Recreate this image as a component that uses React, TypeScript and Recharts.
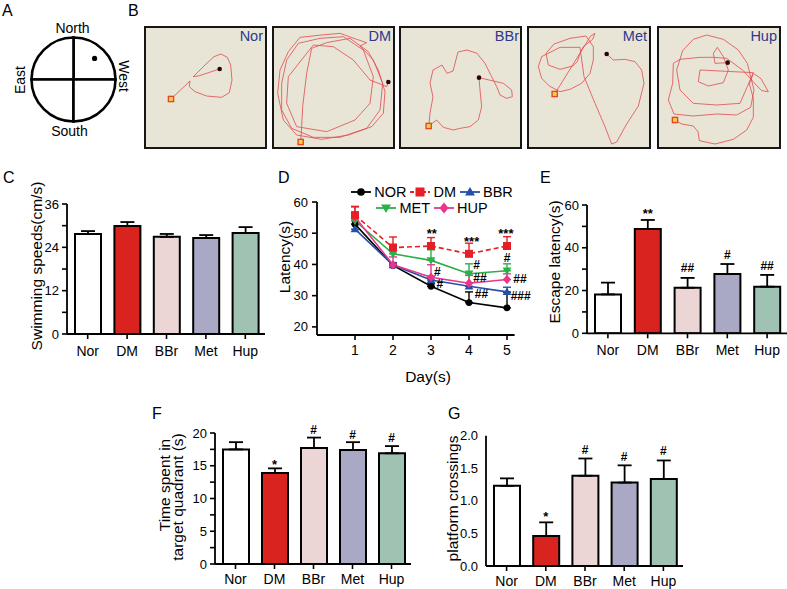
import React from 'react'
import {
  BarChart,
  Bar,
  Cell,
  XAxis,
  YAxis,
  ErrorBar,
  ReferenceDot,
  LineChart,
  Line,
  Legend,
  PieChart,
  Pie,
} from 'recharts'

const FONT = '"Liberation Sans", Arial, Helvetica, sans-serif'

// A: water maze quadrants
const quadrants = ['NE', 'NW', 'SW', 'SE']
const quadrantShare = [1, 1, 1, 1]
const platformQuadrant = 0
const platformRadius = 0.71

// B: swim tracks, in units of the 3x zoomed picture
const norTrack = [[93, 237], [150, 183], [148, 200], [165, 215], [200, 228], [245, 232], [268, 218], [276, 180], [272, 135], [262, 112], [243, 102], [222, 110], [195, 135], [160, 170], [175, 168], [239, 147]]
const norPlatform = [239, 147]
const dmTrack = [[482, 366], [485, 320], [488, 260], [500, 160], [515, 85], [560, 68], [630, 55], [685, 95], [715, 150], [735, 215], [730, 280], [695, 320], [625, 345], [545, 358], [470, 345], [430, 300], [413, 220], [420, 150], [445, 95], [480, 52], [545, 45], [600, 40], [650, 58], [680, 68], [660, 78], [700, 120], [728, 190], [720, 270], [680, 325], [600, 352], [520, 352], [455, 325], [425, 270], [425, 190], [440, 120], [475, 70], [540, 55], [610, 50], [670, 90], [700, 170], [690, 250], [645, 300], [560, 335], [470, 320], [440, 250], [445, 170], [520, 75], [580, 80], [640, 120], [690, 180], [740, 200], [745, 186]]
const dmPlatform = [745, 186]
const bbrTrack = [[866, 318], [890, 300], [910, 322], [940, 330], [960, 325], [990, 320], [1015, 300], [1025, 260], [1020, 210], [1017, 173], [1060, 183], [1090, 190], [1115, 210], [1117, 230], [1100, 235], [1080, 225], [1070, 200], [1055, 170], [1035, 130], [1011, 100], [981, 90], [954, 96], [939, 153], [921, 160], [906, 135], [879, 150], [870, 189], [879, 231], [870, 279], [867, 312]]
const bbrPlatform = [1017, 173]
const metTrack = [[284, 222], [392, 48], [405, 40], [398, 58], [370, 80], [360, 100], [352, 125], [338, 138], [300, 148], [265, 135], [258, 100], [282, 72], [330, 55], [378, 48], [400, 80], [400, 120], [390, 160], [365, 190], [330, 208], [300, 215], [268, 198], [245, 175], [235, 140], [245, 110], [300, 82], [360, 82], [372, 170], [405, 250], [435, 320], [455, 372], [470, 366], [500, 312], [535, 258], [552, 190], [545, 150], [525, 125], [495, 118], [460, 120], [440, 102]]
const metPlatform = [440, 102]
const hupTrack = [[645, 300], [665, 312], [700, 318], [714, 335], [718, 362], [765, 372], [820, 358], [860, 330], [880, 292], [880, 235], [868, 192], [880, 160], [903, 176], [925, 215], [905, 212], [882, 188], [850, 152], [800, 115], [760, 112], [720, 112], [660, 118], [640, 130], [638, 190], [625, 240], [642, 282], [700, 288], [770, 282], [830, 285], [872, 262], [882, 210], [862, 130], [835, 90], [790, 58], [740, 45], [700, 58], [668, 92], [650, 150], [660, 210], [700, 250], [770, 255], [840, 250], [880, 158], [720, 150], [715, 185], [745, 198], [790, 188], [805, 150], [790, 110], [772, 82], [760, 100], [765, 130], [803, 128]]
const hupPlatform = [803, 128]

// bar panels
const groups = ['Nor', 'DM', 'BBr', 'Met', 'Hup']
const groupColors = ['#ffffff', '#d8231f', '#ecd5d5', '#a9a9c6', '#a0c2b3']

const speedMean = [27.7, 29.9, 26.9, 26.6, 28.0]
const speedErr = [0.8, 1.1, 0.8, 0.8, 1.6]
const speedTicks = [0, 6, 12, 18, 24, 30, 36]

const escapeMean = [18.2, 48.8, 21.3, 27.7, 21.8]
const escapeErr = [5.5, 4.2, 4.6, 4.7, 5.5]
const escapeMarks = ['', '**', '##', '#', '##']
const escapeMarkY = [0, 57.2, 30.5, 36.6, 31.5]
const escapeTicks = [0, 10, 20, 30, 40, 50, 60]

const quadrantMean = [17.5, 13.9, 17.7, 17.4, 16.9]
const quadrantErr = [1.1, 0.7, 1.6, 1.2, 1.1]
const quadrantMarks = ['', '*', '#', '#', '#']
const quadrantMarkY = [0, 15.6, 20.5, 19.8, 19.3]
const quadrantTicks = [0, 2.5, 5, 7.5, 10, 12.5, 15, 17.5, 20]

const crossingMean = [1.23, 0.46, 1.385, 1.28, 1.335]
const crossingErr = [0.115, 0.21, 0.265, 0.265, 0.285]
const crossingMarks = ['', '*', '#', '#', '#']
const crossingMarkY = [0, 0.81, 1.78, 1.68, 1.765]
const crossingTicks = [0, 0.5, 1, 1.5, 2]

// D: latency over days
const days = [1, 2, 3, 4, 5]
const latencyNames = ['NOR', 'DM', 'BBR', 'MET', 'HUP']
const latencyColors = ['#000000', '#e41f26', '#2451a6', '#2bb04a', '#e8368c']
const latencyMarkers = ['circle', 'square', 'triangle', 'down', 'diamond']
const norLatency = [52.9, 39.7, 33.0, 27.8, 26.1]
const norErr = [1.2, 0.8, 0.8, 3.4, 5.0]
const dmLatency = [55.8, 45.4, 45.9, 43.4, 45.9]
const dmErr = [2.8, 3.4, 2.7, 3.4, 3.0]
const bbrLatency = [51.3, 39.8, 35.0, 33.0, 31.2]
const bbrErr = [1.5, 0.8, 1.2, 1.0, 1.5]
const metLatency = [54.0, 43.4, 41.3, 37.0, 38.0]
const metErr = [2.0, 3.0, 3.4, 3.2, 2.2]
const hupLatency = [55.2, 39.9, 35.9, 34.0, 35.2]
const hupErr = [3.2, 2.5, 4.0, 2.5, 1.8]
const latencyValues = [norLatency, dmLatency, bbrLatency, metLatency, hupLatency]
const latencyErrs = [norErr, dmErr, bbrErr, metErr, hupErr]
const latencyMarkDay = [3.02, 4.07, 4.97, 3.17, 3.23, 4.2, 4.29, 4.33, 5.0, 5.34, 5.36]
const latencyMarkY = [51.0, 48.3, 50.9, 37.6, 33.7, 40.0, 35.8, 30.7, 42.0, 35.5, 30.1]
const latencyMarkText = ['**', '***', '***', '#', '#', '#', '##', '##', '#', '##', '###']

const axisLine = { stroke: '#000', strokeWidth: 1.8 }
const tickLine = { stroke: '#000', strokeWidth: 1.6 }
const yTick = { fill: '#000', fontSize: 13, fontFamily: FONT }
const xTick = { fill: '#000', fontSize: 14, fontFamily: FONT }

function MarkText({ cx, cy, text }: { cx: number; cy: number; text: string }) {
  const star = text.includes('*')
  return (
    <text x={cx} y={cy + (star ? 7.5 : 4.3)} textAnchor="middle" fontSize={star ? 13 : 12} fontWeight="bold" fontFamily={FONT} fill="#000">
      {text}
    </text>
  )
}

function Marker({ kind, x, y, size, color }: { kind: string; x: number; y: number; size: number; color: string }) {
  const h = size / 2
  if (kind === 'circle') return <circle cx={x} cy={y} r={h * 0.85} fill={color} />
  if (kind === 'square') return <rect x={x - h} y={y - h} width={size} height={size} fill={color} />
  if (kind === 'triangle')
    return <path d={`M${x},${y - h * 1.1}L${x + h * 1.1},${y + h * 0.8}L${x - h * 1.1},${y + h * 0.8}Z`} fill={color} />
  if (kind === 'down')
    return <path d={`M${x},${y + h * 1.1}L${x + h * 1.1},${y - h * 0.8}L${x - h * 1.1},${y - h * 0.8}Z`} fill={color} />
  return <path d={`M${x},${y - h * 1.2}L${x + h},${y}L${x},${y + h * 1.2}L${x - h},${y}Z`} fill={color} />
}

const renderPlatform = (p: any) => {
  if (p.index !== platformQuadrant) return <g key={p.index} />
  const rad = (Math.PI / 180) * p.midAngle
  const r = p.outerRadius * platformRadius
  return <circle key={p.index} cx={p.cx + r * Math.cos(rad)} cy={p.cy - r * Math.sin(rad)} r={2.6} fill="#000" />
}

function Compass() {
  const data = quadrants.map((q, i) => ({ q, share: quadrantShare[i] }))
  return (
    <div style={{ position: 'absolute', left: 0, top: 0 }}>
      <PieChart width={140} height={140} margin={{ top: 0, right: 0, bottom: 0, left: 0 }}>
        <Pie
          data={data}
          dataKey="share"
          nameKey="q"
          cx={73.5}
          cy={79.5}
          innerRadius={0}
          outerRadius={42}
          startAngle={0}
          endAngle={360}
          fill="#fff"
          stroke="#000"
          strokeWidth={2.6}
          label={renderPlatform}
          labelLine={false}
          isAnimationActive={false}
        />
      </PieChart>
    </div>
  )
}

const StartSquare = (p: any) => (
  <rect x={p.cx - 2.6} y={p.cy - 2.6} width={5.2} height={5.2} fill="#f8d24a" stroke="#e4481e" strokeWidth={1.4} />
)

function TrackBox({ box, dx, track, platform }: { box: number[]; dx: number[]; track: number[][]; platform: number[] }) {
  const data = track.map(([x, y]) => ({ x, y }))
  return (
    <div
      style={{
        position: 'absolute',
        left: box[0],
        top: box[1],
        width: box[2],
        height: box[3],
        boxSizing: 'border-box',
        border: '2px solid #161616',
        background: '#e8e5d7',
      }}
    >
      <LineChart width={box[2] - 4} height={box[3] - 4} data={data} margin={{ top: 0, right: 0, bottom: 0, left: 0 }}>
        <XAxis type="number" dataKey="x" domain={dx} hide allowDataOverflow />
        <YAxis type="number" domain={[24, 381]} reversed hide allowDataOverflow />
        <Line dataKey="y" type="linear" stroke="#e04a4c" strokeWidth={0.8} dot={false} activeDot={false} isAnimationActive={false} />
        <ReferenceDot x={track[0][0]} y={track[0][1]} r={3} ifOverflow="visible" shape={StartSquare} />
        <ReferenceDot x={platform[0]} y={platform[1]} r={2.3} fill="#2a0505" stroke="none" ifOverflow="visible" />
      </LineChart>
    </div>
  )
}

type BarPanelProps = {
  box: number[]
  yWidth: number
  top: number
  right: number
  xHeight: number
  xMargin: number
  domain: number[]
  ticks: number[]
  fmt: (v: any) => string
  means: number[]
  errs: number[]
  marks?: string[]
  markY?: number[]
  tickLabels?: boolean
}

function BarPanel({
  box, yWidth, top, right, xHeight, xMargin, domain, ticks, fmt, means, errs, marks = [], markY = [], tickLabels = true,
}: BarPanelProps) {
  const rows = groups.map((g, i) => ({ g, v: means[i], e: [0, errs[i]] }))
  return (
    <div style={{ position: 'absolute', left: box[0], top: box[1] }}>
      <BarChart width={box[2]} height={box[3]} data={rows} margin={{ top, right, bottom: 0, left: 0 }}>
        <XAxis
          dataKey="g"
          height={xHeight}
          axisLine={axisLine}
          tickLine={tickLine}
          tickSize={5}
          tickMargin={xMargin}
          tick={xTick}
          interval={0}
          padding={{ left: 1, right: 0 }}
        />
        <YAxis
          type="number"
          width={yWidth}
          domain={domain}
          ticks={ticks}
          tickFormatter={fmt}
          interval={0}
          allowDataOverflow
          axisLine={axisLine}
          tickLine={tickLine}
          tickSize={5}
          tickMargin={3}
          tick={tickLabels ? yTick : false}
        />
        <Bar dataKey="v" barSize={26} stroke="#000" strokeWidth={2} isAnimationActive={false}>
          {groups.map((g, i) => (
            <Cell key={g} fill={groupColors[i]} />
          ))}
          <ErrorBar dataKey="e" width={7} stroke="#000" strokeWidth={1.8} />
        </Bar>
        {marks.map((m, i) =>
          m ? (
            <ReferenceDot
              key={i}
              x={groups[i]}
              y={markY[i]}
              r={0}
              ifOverflow="visible"
              shape={(p: any) => <MarkText cx={p.cx} cy={p.cy} text={m} />}
            />
          ) : null
        )}
      </BarChart>
    </div>
  )
}

function LatencyLegend() {
  const rows = [[0, 1, 2], [3, 4]]
  return (
    <div style={{ width: 200, fontFamily: FONT, fontSize: 14.5, color: '#000' }}>
      {rows.map((r, ri) => (
        <div key={ri} style={{ display: 'flex', justifyContent: 'center', alignItems: 'center', height: 16 }}>
          {r.map((k) => (
            <div key={k} style={{ display: 'flex', alignItems: 'center', margin: '0 2px' }}>
              <svg width={20} height={12}>
                <line
                  x1={0}
                  y1={6}
                  x2={20}
                  y2={6}
                  stroke={latencyColors[k]}
                  strokeWidth={1.8}
                  strokeDasharray={k === 1 ? '4 2' : undefined}
                />
                <Marker kind={latencyMarkers[k]} x={10} y={6} size={9} color={latencyColors[k]} />
              </svg>
              <span style={{ marginLeft: 3, lineHeight: '16px' }}>{latencyNames[k]}</span>
            </div>
          ))}
        </div>
      ))}
    </div>
  )
}

function LatencyChart() {
  const rows = days.map((day, i) => {
    const row: Record<string, any> = { day }
    latencyNames.forEach((n, k) => {
      row[n] = latencyValues[k][i]
      row[n + 'e'] = [0, latencyErrs[k][i]]
    })
    return row
  })
  const order = [0, 2, 3, 4, 1]
  return (
    <div style={{ position: 'absolute', left: 280, top: 180 }}>
      <LineChart width={255} height={200} data={rows} margin={{ top: 22, right: 20.4, bottom: 0, left: 0 }}>
        <XAxis
          type="number"
          dataKey="day"
          domain={[0, 5.2]}
          ticks={days}
          allowDataOverflow
          height={45}
          axisLine={axisLine}
          tickLine={tickLine}
          tickSize={5}
          tickMargin={5}
          tick={xTick}
          interval={0}
        />
        <YAxis
          width={37}
          domain={[17.4, 60]}
          ticks={[20, 30, 40, 50, 60]}
          allowDataOverflow
          interval={0}
          axisLine={axisLine}
          tickLine={tickLine}
          tickSize={5}
          tickMargin={4}
          tick={yTick}
        />
        <Legend
          layout="vertical"
          align="center"
          verticalAlign="middle"
          wrapperStyle={{ left: 52, top: 4, width: 200 }}
          content={() => <LatencyLegend />}
        />
        {order.map((k) => {
          const n = latencyNames[k]
          return (
            <Line
              key={n}
              dataKey={n}
              type="linear"
              stroke={latencyColors[k]}
              strokeWidth={1.6}
              strokeDasharray={k === 1 ? '5 3' : undefined}
              dot={(p: any) => (
                <Marker key={n + p.index} kind={latencyMarkers[k]} x={p.cx} y={p.cy} size={8} color={latencyColors[k]} />
              )}
              activeDot={false}
              isAnimationActive={false}
            >
              <ErrorBar dataKey={n + 'e'} width={4} stroke={latencyColors[k]} strokeWidth={1.4} />
            </Line>
          )
        })}
        {latencyMarkText.map((t, i) => (
          <ReferenceDot
            key={i}
            x={latencyMarkDay[i]}
            y={latencyMarkY[i]}
            r={0}
            ifOverflow="visible"
            shape={(p: any) => <MarkText cx={p.cx} cy={p.cy} text={t} />}
          />
        ))}
      </LineChart>
    </div>
  )
}

// G axis geometry in the page: value 0 sits at y 566, value 2 at y 435.7
const crossingAxis = { x: 486, zeroY: 566, topY: 435.7, top: 2 }

function Overlay() {
  const letters: [string, number, number][] = [
    ['A', 2, 16],
    ['B', 128, 16],
    ['C', 3, 183],
    ['D', 278, 183],
    ['E', 540, 183],
    ['F', 152, 419],
    ['G', 448, 419],
  ]
  const boxLabels: [string, number][] = [
    ['Nor', 263],
    ['DM', 391],
    ['BBr', 519],
    ['Met', 647],
    ['Hup', 777],
  ]
  const vTitles: [string, number, number][] = [
    ['Swimming speeds(cm/s)', 42, 266],
    ['Latency(s)', 290, 257],
    ['Escape latency(s)', 560, 262],
    ['Time spent in', 170, 485],
    ['target quadrant (s)', 182.5, 497],
    ['platform crossings', 458, 498.5],
  ]
  const pxPerUnit = (crossingAxis.zeroY - crossingAxis.topY) / crossingAxis.top
  return (
    <svg width={787} height={589} style={{ position: 'absolute', left: 0, top: 0, pointerEvents: 'none' }} fontFamily={FONT}>
      {letters.map(([t, x, y]) => (
        <text key={t} x={x} y={y} fontSize={16} fill="#000">
          {t}
        </text>
      ))}
      <text x={72.5} y={33.3} fontSize={14} textAnchor="middle" fill="#000">North</text>
      <text x={69.5} y={136} fontSize={14} textAnchor="middle" fill="#000">South</text>
      <text transform="translate(25,80) rotate(-90)" fontSize={14} textAnchor="middle" fill="#000">East</text>
      <text transform="translate(118.5,76) rotate(90)" fontSize={14} textAnchor="middle" fill="#000">West</text>
      {boxLabels.map(([t, x]) => (
        <text key={t} x={x} y={41} fontSize={14.5} textAnchor="end" fill="#2b3a8c">
          {t}
        </text>
      ))}
      {vTitles.map(([t, x, y]) => (
        <text key={t} transform={`translate(${x},${y}) rotate(-90)`} fontSize={15.5} textAnchor="middle" fill="#000">
          {t}
        </text>
      ))}
      {crossingTicks.map((v) => (
        <text
          key={'g' + v}
          x={crossingAxis.x - 8}
          y={crossingAxis.zeroY - v * pxPerUnit + 4.6}
          fontSize={13}
          textAnchor="end"
          fill="#000"
        >
          {v.toFixed(1)}
        </text>
      ))}
      <text x={428} y={382} fontSize={15.5} textAnchor="middle" fill="#000">Day(s)</text>
    </svg>
  )
}

export default function App() {
  return (
    <div style={{ position: 'relative', width: 787, height: 589, background: '#fff', fontFamily: FONT, overflow: 'hidden' }}>
      <style>{'body{margin:0}'}</style>
      <Compass />
      <TrackBox box={[144, 26, 123, 123]} dx={[18, 375]} track={norTrack} platform={norPlatform} />
      <TrackBox box={[272, 26, 123, 123]} dx={[402, 759]} track={dmTrack} platform={dmPlatform} />
      <TrackBox box={[399, 26, 123, 123]} dx={[783, 1140]} track={bbrTrack} platform={bbrPlatform} />
      <TrackBox box={[527, 26, 124, 123]} dx={[207, 567]} track={metTrack} platform={metPlatform} />
      <TrackBox box={[657, 26, 124, 123]} dx={[597, 957]} track={hupTrack} platform={hupPlatform} />
      <BarPanel
        box={[40, 190, 230, 180]}
        yWidth={27}
        top={14}
        right={5}
        xHeight={36}
        xMargin={7}
        domain={[0, 36]}
        ticks={speedTicks}
        fmt={(v) => (Number(v) % 12 === 0 ? String(v) : '')}
        means={speedMean}
        errs={speedErr}
      />
      <LatencyChart />
      <BarPanel
        box={[560, 190, 227, 180]}
        yWidth={27}
        top={15}
        right={0}
        xHeight={36.7}
        xMargin={6.5}
        domain={[0, 60]}
        ticks={escapeTicks}
        fmt={(v) => (Number(v) % 20 === 0 ? String(v) : '')}
        means={escapeMean}
        errs={escapeErr}
        marks={escapeMarks}
        markY={escapeMarkY}
      />
      <BarPanel
        box={[190, 420, 225, 169]}
        yWidth={25}
        top={13}
        right={4}
        xHeight={25}
        xMargin={5.5}
        domain={[0, 20]}
        ticks={quadrantTicks}
        fmt={(v) => (Number(v) % 5 === 0 ? String(v) : '')}
        means={quadrantMean}
        errs={quadrantErr}
        marks={quadrantMarks}
        markY={quadrantMarkY}
      />
      <BarPanel
        box={[455, 420, 232, 169]}
        yWidth={31}
        top={15.7}
        right={4}
        xHeight={23}
        xMargin={5}
        domain={[0, 2]}
        ticks={crossingTicks}
        fmt={(v) => Number(v).toFixed(1)}
        means={crossingMean}
        errs={crossingErr}
        marks={crossingMarks}
        markY={crossingMarkY}
        tickLabels={false}
      />
      <Overlay />
    </div>
  )
}
